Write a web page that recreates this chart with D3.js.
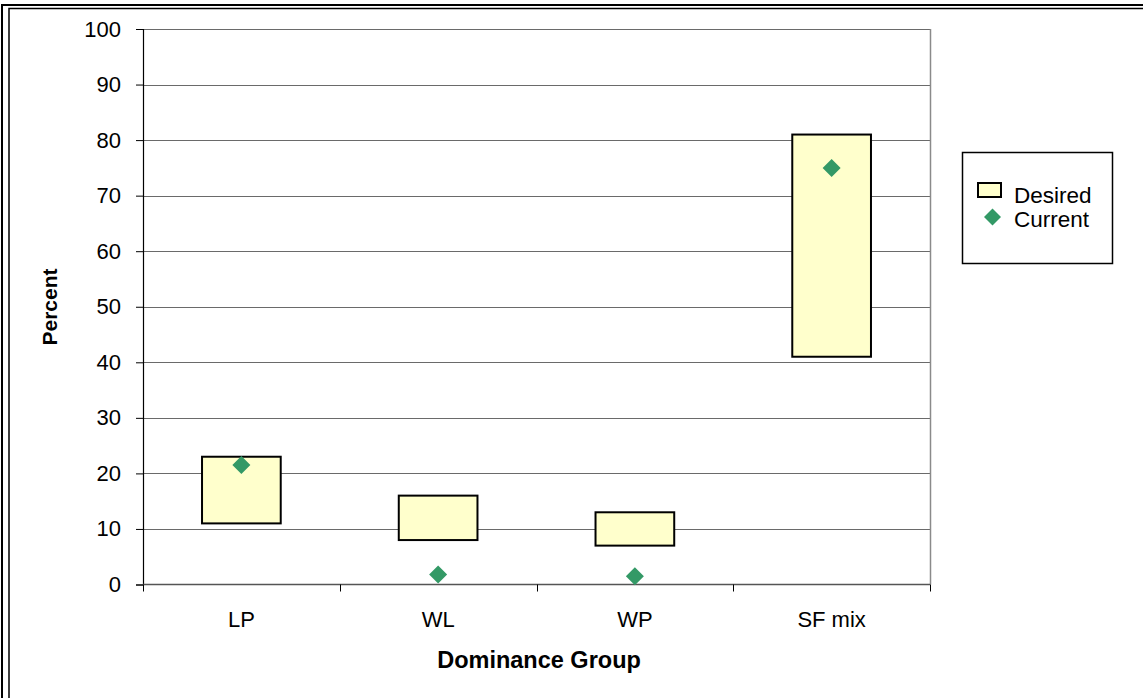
<!DOCTYPE html>
<html>
<head>
<meta charset="utf-8">
<script src="https://cdn.jsdelivr.net/npm/d3@7"></script>
<style>
  html, body { margin: 0; padding: 0; background: #ffffff; }
  svg { display: block; }
  text { font-family: "Liberation Sans", Arial, sans-serif; fill: #000; }
</style>
</head>
<body>
<svg id="chart" width="1143" height="698"></svg>
<script>
// Dominance groups and their desired ranges vs current percentages
const categories = ["LP", "WL", "WP", "SF mix"];
const desiredLow = [11, 8, 7, 41];
const desiredHigh = [23, 16, 13, 81];
const current = [21.5, 1.8, 1.5, 75];
const yTicks = [0, 10, 20, 30, 40, 50, 60, 70, 80, 90, 100];
const seriesNames = ["Desired", "Current"];

const W = 1143, H = 698;
const plot = { left: 143, right: 930, top: 29, bottom: 584.5 };

const svg = d3.select("#chart");

// Double frame around the chart (right/bottom edges run off the canvas)
svg.append("rect")
  .attr("x", 2).attr("y", 5).attr("width", W + 20).attr("height", H + 20)
  .attr("fill", "none").attr("stroke", "#000").attr("stroke-width", 2);
svg.append("rect")
  .attr("x", 9).attr("y", 8.5).attr("width", W + 20).attr("height", H + 20)
  .attr("fill", "none").attr("stroke", "#000").attr("stroke-width", 1.5);

const x = d3.scaleBand()
  .domain(categories)
  .range([plot.left, plot.right])
  .paddingInner(0).paddingOuter(0);

const y = d3.scaleLinear()
  .domain([0, 100])
  .range([plot.bottom, plot.top]);

// Horizontal gridlines
svg.append("g")
  .selectAll("line")
  .data(yTicks.filter(d => d > 0))
  .join("line")
  .attr("x1", plot.left).attr("x2", plot.right)
  .attr("y1", d => Math.round(y(d)) + 0.5).attr("y2", d => Math.round(y(d)) + 0.5)
  .attr("stroke", "#6a6a6a").attr("stroke-width", 1);

// Plot area right edge
svg.append("line")
  .attr("x1", plot.right + 0.5).attr("x2", plot.right + 0.5)
  .attr("y1", y(100)).attr("y2", y(0))
  .attr("stroke", "#8a8a8a").attr("stroke-width", 1.5);

// Y axis
const yAxis = d3.axisLeft(y).tickValues(yTicks).tickSize(7).tickPadding(15);
const gy = svg.append("g")
  .attr("transform", `translate(${plot.left},0)`)
  .call(yAxis);
gy.select(".domain").attr("stroke", "#000").attr("stroke-width", 1.2);
gy.selectAll(".tick line").attr("stroke", "#000");
gy.selectAll(".tick text")
  .style("font-family", '"Liberation Sans", Arial, sans-serif')
  .style("font-size", "22px").attr("fill", "#000");

// X axis: ticks at category boundaries, labels centred in bands
const gx = svg.append("g")
  .attr("transform", `translate(0,${plot.bottom})`);
gx.append("line")
  .attr("x1", plot.left).attr("x2", plot.right)
  .attr("stroke", "#555").attr("stroke-width", 1.5);
const bounds = categories.map(c => x(c)).concat([x(categories[categories.length - 1]) + x.bandwidth()]);
gx.selectAll(".bt")
  .data(bounds)
  .join("line")
  .attr("class", "bt")
  .attr("x1", d => Math.round(d) + 0.5).attr("x2", d => Math.round(d) + 0.5)
  .attr("y1", 0).attr("y2", 7)
  .attr("stroke", "#000").attr("stroke-width", 1);
gx.selectAll(".lbl")
  .data(categories)
  .join("text")
  .attr("class", "lbl")
  .attr("x", d => x(d) + x.bandwidth() / 2)
  .attr("y", 42.5)
  .attr("text-anchor", "middle")
  .style("font-size", "22px")
  .text(d => d);

// Desired range boxes
const barW = x.bandwidth() * 0.4;
svg.append("g")
  .selectAll("rect")
  .data(categories)
  .join("rect")
  .attr("x", d => x(d) + x.bandwidth() / 2 - barW / 2)
  .attr("width", barW)
  .attr("y", (d, i) => y(desiredHigh[i]))
  .attr("height", (d, i) => y(desiredLow[i]) - y(desiredHigh[i]))
  .attr("fill", "#FFFFCC")
  .attr("stroke", "#000").attr("stroke-width", 2);

// Current value markers
const diamond = s => `M0,${-s}L${s},0L0,${s}L${-s},0Z`;
svg.append("g")
  .selectAll("path")
  .data(categories)
  .join("path")
  .attr("transform", (d, i) => `translate(${x(d) + x.bandwidth() / 2},${y(current[i])})`)
  .attr("d", diamond(9))
  .attr("fill", "#339966");

// Axis titles
svg.append("text")
  .attr("x", 539).attr("y", 668)
  .attr("text-anchor", "middle")
  .style("font-size", "23.5px").style("font-weight", "bold")
  .text("Dominance Group");
svg.append("text")
  .attr("transform", "translate(57,307) rotate(-90)")
  .attr("text-anchor", "middle")
  .style("font-size", "21px").style("font-weight", "bold")
  .text("Percent");

// Legend
const lg = svg.append("g");
lg.append("rect")
  .attr("x", 962.5).attr("y", 152.5).attr("width", 150).attr("height", 111)
  .attr("fill", "#fff").attr("stroke", "#000").attr("stroke-width", 1.5);
lg.append("rect")
  .attr("x", 978).attr("y", 183).attr("width", 23).attr("height", 14)
  .attr("fill", "#FFFFCC").attr("stroke", "#000").attr("stroke-width", 2);
lg.append("path")
  .attr("transform", "translate(992.5,217)")
  .attr("d", diamond(8.5))
  .attr("fill", "#339966");
lg.selectAll("text")
  .data(seriesNames)
  .join("text")
  .attr("x", 1014)
  .attr("y", (d, i) => 202.5 + i * 24)
  .style("font-size", "22.5px")
  .text(d => d);
</script>
</body>
</html>
